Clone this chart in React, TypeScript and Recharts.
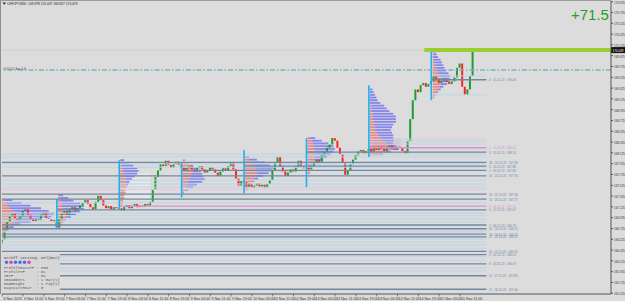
import React from 'react';
import { ComposedChart, XAxis, YAxis, Bar, ReferenceLine, ReferenceArea } from 'recharts';

// ---- candle closes, hourly (trading-hour index starts 6 Nov 03:00 = 3) ----
const firstHour = 3;
const firstOpen = 166.45;
const closes6Nov = [166.52,166.70,166.85,166.95,167.00,166.92,166.88,166.95,167.05,167.08,166.98,166.90,166.86,166.90,166.88,166.98,167.02,166.92,166.90,166.86,166.88];
const closes7Nov = [166.75,166.90,167.00,167.05,166.98,167.08,167.12,167.05,167.10,167.15,167.20,167.25,167.18,167.12,167.08,167.22,167.33,167.25,167.15,167.10,167.14,167.08,167.12,167.10];
const closes8Nov = [167.10,167.06,167.12,167.16,167.10,167.14,167.18,167.12,167.15,167.13,167.18,167.15,167.22,167.45,167.68,167.80,167.92,167.88,167.98,167.90,167.85,167.92,167.96,167.90];
const closes9Nov = [167.86,167.80,167.85,167.88,167.82,167.78,167.84,167.88,167.82,167.76,167.80,167.86,167.82,167.76,167.70,167.78,167.84,167.80,167.88,167.95,167.82,167.65,167.52,167.60];
const closes10Nov = [167.58,167.50,167.55,167.48,167.52,167.56,167.50,167.54,167.48,167.55,167.62,167.80,167.95,168.05,167.88,167.78,167.70,167.76,167.82,167.78,167.86,167.98,167.88,167.84];
const closes13Nov = [167.86,167.82,167.88,167.95,168.00,167.96,168.08,168.15,168.22,168.28,168.40,168.35,168.22,168.10,167.95,167.72,167.80,167.92,168.00,168.08,168.15,168.18,168.12,168.16];
const closes14Nov = [168.20,168.15,168.22,168.18,168.24,168.20,168.16,168.22,168.26,168.20,168.18,168.24,168.22,168.16,168.12,168.35,168.75,169.10,169.30,169.25,169.38,169.42,169.35,169.40];
const closes15Nov = [169.45,169.55,169.50,169.42,169.46,169.50,169.44,169.40,169.45,169.52,169.70,169.78,169.35,169.20,169.30,169.55,170.03];

const closes = [...closes6Nov, ...closes7Nov, ...closes8Nov, ...closes9Nov, ...closes10Nov, ...closes13Nov, ...closes14Nov, ...closes15Nov];

// ---- axes ----
const xTickHours = [3,11,19,27,35,43,51,59,67,75,83,91,99,107,115,123,131,139,147,155,163,171,179];
const xTickLabels = ['6 Nov 2023','6 Nov 11:00','6 Nov 19:00','7 Nov 03:00','7 Nov 11:00','7 Nov 19:00','8 Nov 03:00','8 Nov 11:00','8 Nov 19:00','9 Nov 03:00','9 Nov 11:00','9 Nov 19:00','10 Nov 03:00','10 Nov 11:00','10 Nov 19:00','13 Nov 03:00','13 Nov 11:00','13 Nov 19:00','14 Nov 03:00','14 Nov 11:00','14 Nov 19:00','15 Nov 03:00','15 Nov 11:00'];
const yTicks = [165.525,165.725,165.925,166.125,166.325,166.525,166.725,166.925,167.125,167.325,167.525,167.725,167.925,168.125,168.325,168.525,168.725,168.925,169.125,169.325,169.525,169.725,169.925,170.125,170.325,170.525,170.725,170.925];

const currentPrice = 170.029;
const targetLevel = 169.66;
const titleText = 'CHFJPY,M30  169.978 170.037 169.827 170.029';
const pipsText = '+71.5';
const targetText = '###### bu 1.0';
const panelTitle = 'On/Off Setting: Del(BUY)';
const panelRows = ['ProfileDataTF : M30','ProfileTF     : D1','IBTF          : H1','IBNumbers     : 1 Bar(s)','RowHeight     : 1 Pip(s)','DayStartHour  : 0'];
const panelDots = ['#4a6cf0', '#e83aa8', '#4a6cf0', '#4a6cf0', '#4a6cf0', '#e83aa8'];

// ---- day start hours (trading-hour index) ----
const dayStarts: Record<string, number> = {
  '06.11.23': 2.9, '07.11.23': 24, '08.11.23': 48, '09.11.23': 72,
  '10.11.23': 96, '13.11.23': 120, '14.11.23': 144, '15.11.23': 168,
};
const linesEnd = 189.2;

// ---- POC levels: id, date, value, pink ----
const levelIds = [0,1,2,18,3,4,16,15,14,5,6,7,20,19,17,10,9,8,11,12];
const levelDates = ['15.11.23','14.11.23','13.11.23','20.10.23','10.11.23','09.11.23','24.10.23','25.10.23','26.10.23','08.11.23','07.11.23','06.11.23','18.10.23','19.10.23','23.10.23','01.11.23','02.11.23','03.11.23','27.10.23','30.10.23'];
const levelValues = [169.48,168.22,168.14,167.95,167.88,167.80,167.70,167.36,167.27,167.14,167.07,166.79,166.72,166.62,166.57,166.30,166.24,166.07,165.85,165.60];
const levelPink = [false,true,false,false,false,false,false,false,false,true,false,false,false,false,false,false,false,false,false,false];

// ---- value-area lines ----
const vaBlueValues = [169.55,169.20,168.34,168.29,168.10,168.05,167.92,167.86,167.62,167.55,167.49,167.20,167.01,166.96,166.90,166.85,166.68,166.53,166.47,166.42,166.36,166.20,166.14,165.99,165.94,165.59];
const vaBlueStarts = [168,168,144,144,2.9,2.9,2.9,2.9,2.9,2.9,2.9,2.9,2.9,2.9,2.9,2.9,2.9,2.9,2.9,2.9,2.9,2.9,2.9,2.9,2.9,2.9];
const vaPinkValues = [168.38,167.45,166.66,166.00];
const vaPinkStarts = [144,2.9,2.9,2.9];

// ---- market profiles: [price, red TPOs, blue TPOs] ----
const profile6Nov = [[167.25,2,6],[167.20,3,12],[167.15,4,18],[167.10,6,24],[167.05,8,28],[167.00,10,30],[166.95,12,26],[166.90,12,18],[166.85,10,12],[166.80,8,6],[166.75,6,3],[166.70,4,1],[166.65,3,0],[166.60,2,0]];
const profile7Nov = [[167.34,1,3],[167.29,2,6],[167.24,2,10],[167.19,3,14],[167.14,3,17],[167.09,4,16],[167.04,5,12],[166.99,6,8],[166.94,6,4],[166.89,5,1],[166.84,4,0],[166.79,3,0],[166.74,2,0]];
const profile8Nov = [[167.99,0,3],[167.94,1,6],[167.89,1,9],[167.84,2,11],[167.79,2,12],[167.74,3,10],[167.69,3,8],[167.64,4,5],[167.59,4,3],[167.54,5,1],[167.49,5,0],[167.44,4,0],[167.39,4,0],[167.34,3,0],[167.29,3,0],[167.24,2,0],[167.19,2,0],[167.14,1,0]];
const profile9Nov = [[167.99,2,0],[167.94,4,0],[167.89,6,2],[167.84,8,4],[167.79,8,6],[167.74,7,8],[167.69,6,10],[167.64,5,12],[167.59,4,11],[167.54,3,8],[167.49,3,5],[167.44,2,2],[167.39,1,0]];
const profile10Nov = [[168.05,1,2],[168.00,3,6],[167.95,5,10],[167.90,7,12],[167.85,8,14],[167.80,9,12],[167.75,9,9],[167.70,8,6],[167.65,7,3],[167.60,6,1],[167.55,5,0],[167.50,4,0],[167.45,2,0]];
const profile13Nov = [[168.40,2,4],[168.35,3,8],[168.30,4,12],[168.25,5,15],[168.20,5,16],[168.15,6,14],[168.10,6,12],[168.05,6,9],[168.00,5,7],[167.95,5,4],[167.90,4,2],[167.85,3,0],[167.80,2,0],[167.75,2,0]];
const profile14Nov = [[169.30,0,2],[169.25,0,3],[169.20,0,4],[169.15,0,5],[169.10,0,6],[169.05,0,8],[169.00,1,10],[168.95,1,12],[168.90,1,14],[168.85,2,16],[168.80,2,18],[168.75,2,18],[168.70,3,17],[168.65,3,15],[168.60,4,13],[168.55,4,12],[168.50,5,12],[168.45,6,12],[168.40,8,10],[168.35,10,8],[168.30,12,6],[168.25,14,6],[168.20,16,6],[168.15,12,4],[168.10,8,2]];
const profile15Nov = [[170.00,0,2],[169.95,0,3],[169.90,0,4],[169.85,1,5],[169.80,1,6],[169.75,2,6],[169.70,2,7],[169.65,3,7],[169.60,4,8],[169.55,5,8],[169.50,6,7],[169.45,7,6],[169.40,6,5],[169.35,5,3],[169.30,4,2],[169.25,3,1],[169.20,2,0],[169.15,1,0]];
const profiles = [profile6Nov, profile7Nov, profile8Nov, profile9Nov, profile10Nov, profile13Nov, profile14Nov, profile15Nov];
const profileStarts = [2.9, 24.4, 48.4, 72.4, 96.4, 120.4, 144.4, 168.6];

// ---- day separators: [hour, top, bottom] ----
const separators = [[24,167.27,166.73],[48,167.99,167.07],[72,167.95,167.30],[96,168.18,167.38],[120,168.40,167.49],[144,169.38,168.05],[168,170.03,169.10]];

// ---- initial-balance boxes: [x1, x2, yTop, yBottom, color] ----
const ibBoxes: [number, number, number, number, string][] = [[49.6,60,167.75,167.25,'#e6e6e6'],[145.8,156.2,168.40,168.22,'#d8c6cc']];

const candles = closes.map((c, i) => {
  const o = i === 0 ? firstOpen : closes[i - 1];
  return { h: firstHour + i, o, c, body: [Math.min(o, c), Math.max(o, c)] };
});

const GREEN = '#1e9e32';
const RED = '#ff2222';
const STEEL = '#6e88a6';
const LIGHTBLUE = '#bad5e5';
const PINK = '#d78fd7';
const LIGHTPINK = '#e2c6e2';
const SANS = 'Liberation Sans, Arial, sans-serif';
const MONO = 'Liberation Mono, DejaVu Sans Mono, monospace';

// small text: drawn at 9px and scaled down (browsers clamp very small font sizes)
const Tiny = ({ x, y, sx, sy, fill, family, anchor, children }: any) => (
  <text transform={`translate(${x},${y}) scale(${sx},${sy})`} fontSize={9} fill={fill} fontFamily={family || SANS} textAnchor={anchor || 'start'} style={{ whiteSpace: 'pre' }}>{children}</text>
);

const CandleShape = (props: any) => {
  const { x, y, width, height, payload } = props;
  const up = payload.c >= payload.o;
  const h = Math.max(height, 0.8);
  return <rect x={x} y={y} width={width} height={h} fill={up ? GREEN : RED} />;
};

const XTick = (props: any) => {
  const { x, payload } = props;
  const i = xTickHours.indexOf(payload.value);
  return (
    <g>
      <line x1={x} x2={x} y1={294} y2={296.5} stroke="#444" strokeWidth={0.6} />
      <Tiny x={x + 1.2} y={299.6} sx={0.4} sy={0.48} fill="#333">{xTickLabels[i]}</Tiny>
    </g>
  );
};

const YTick = (props: any) => {
  const { x, y, payload } = props;
  return <Tiny x={x} y={y + 1.8} sx={0.34} sy={0.46} fill="#333">{Number(payload.value).toFixed(3)}</Tiny>;
};

const LevelLabel = (props: any) => {
  const vb = props.viewBox || {};
  const xr = (vb.x || 0) + (vb.width || 0) + 2.5;
  const yy = (vb.y || 0) + 1.6;
  return <Tiny x={xr} y={yy} sx={0.33} sy={0.45} fill={props.fill}>{props.text}</Tiny>;
};

const PriceBox = (props: any) => {
  const vb = props.viewBox || {};
  const xr = (vb.x || 0) + (vb.width || 0);
  const yy = vb.y || 0;
  return (
    <g>
      <rect x={xr} y={yy - 3} width={14} height={6} fill="#111" />
      <Tiny x={xr + 1.5} y={yy + 1.8} sx={0.34} sy={0.46} fill="#fff">{currentPrice.toFixed(3)}</Tiny>
    </g>
  );
};

export default function App() {
  const profileAreas: any[] = [];
  profiles.forEach((rows, pi) => {
    const s = profileStarts[pi];
    rows.forEach((row, ri) => {
      const [p, r, b] = row;
      if (r > 0) {
        profileAreas.push(
          <ReferenceArea key={`pr${pi}-${ri}`} x1={s} x2={s + r * 0.5} y1={p - 0.017} y2={p + 0.017} fill="#f26a6a" fillOpacity={0.75} stroke="none" ifOverflow="hidden" />
        );
      }
      if (b > 0) {
        profileAreas.push(
          <ReferenceArea key={`pb${pi}-${ri}`} x1={s + r * 0.5} x2={s + (r + b) * 0.5} y1={p - 0.017} y2={p + 0.017} fill="#6a6af2" fillOpacity={0.75} stroke="none" ifOverflow="hidden" />
        );
      }
    });
  });

  return (
    <div style={{ position: 'absolute', left: 0, top: 0, width: 625, height: 301, background: '#dcdcdc', overflow: 'hidden' }}>
      <ComposedChart width={625} height={301} data={candles} margin={{ top: 1, right: 0, bottom: 0, left: 2 }}>
        <XAxis dataKey="h" type="number" domain={[2.9, 237.12]} allowDataOverflow ticks={xTickHours} interval={0}
          height={7} tick={<XTick />} tickLine={false} axisLine={{ stroke: '#555' }} tickSize={0} tickMargin={0} />
        <YAxis orientation="right" type="number" domain={[165.512, 170.938]} allowDataOverflow ticks={yTicks} interval={0}
          width={14} tick={<YTick />} tickSize={2} tickMargin={1} tickLine={{ stroke: '#555' }} axisLine={{ stroke: '#555' }} />

        {ibBoxes.map((bx, i) => (
          <ReferenceArea key={`ib${i}`} x1={bx[0]} x2={bx[1]} y1={bx[3]} y2={bx[2]} fill={bx[4]} fillOpacity={1} stroke="none" ifOverflow="hidden" />
        ))}

        <ReferenceLine y={currentPrice} stroke="#cdcdcd" strokeWidth={1} ifOverflow="hidden" />

        {vaBlueValues.map((v, i) => (
          <ReferenceLine key={`vb${i}`} segment={[{ x: vaBlueStarts[i], y: v }, { x: linesEnd, y: v }]} stroke={LIGHTBLUE} strokeWidth={1} ifOverflow="hidden" />
        ))}
        {vaPinkValues.map((v, i) => (
          <ReferenceLine key={`vp${i}`} segment={[{ x: vaPinkStarts[i], y: v }, { x: linesEnd, y: v }]} stroke={LIGHTPINK} strokeWidth={1} ifOverflow="hidden" />
        ))}
        {levelValues.map((v, i) => {
          const start = dayStarts[levelDates[i]] ?? 2.9;
          const col = levelPink[i] ? PINK : STEEL;
          return (
            <ReferenceLine key={`lv${i}`} segment={[{ x: start, y: v }, { x: linesEnd, y: v }]} stroke={col} strokeWidth={1.3} ifOverflow="hidden"
              label={<LevelLabel fill={col} text={`${levelIds[i]} : ${levelDates[i]} : ${v.toFixed(2)}`} />} />
          );
        })}

        {profileAreas}

        {separators.map((s, i) => (
          <ReferenceLine key={`sep${i}`} segment={[{ x: s[0], y: s[1] }, { x: s[0], y: s[2] }]} stroke="#1cb2ee" strokeWidth={1.6} ifOverflow="hidden" />
        ))}

        <ReferenceLine y={targetLevel} stroke="#78b4bc" strokeWidth={1.5} strokeDasharray="5 2 1.5 2" ifOverflow="hidden" />

        <Bar dataKey="body" barSize={2} isAnimationActive={false} shape={<CandleShape />} />

        <ReferenceLine segment={[{ x: 165.3, y: currentPrice }, { x: 237.12, y: currentPrice }]} stroke="#9acd32" strokeWidth={4} ifOverflow="hidden" />
        <ReferenceLine y={currentPrice} stroke="none" ifOverflow="hidden" label={<PriceBox />} />
      </ComposedChart>

      <svg width={625} height={301} style={{ position: 'absolute', left: 0, top: 0, pointerEvents: 'none' }}>
        <rect x={0} y={0} width={1} height={294} fill="#8e8e8e" />
        <rect x={0} y={0} width={611} height={1} fill="#9a9a9a" />
        <path d="M2.5 2.6 L6 2.6 L4.25 4.8 Z" fill="#222" />
        <Tiny x={7} y={5} sx={0.36} sy={0.46} fill="#222">{titleText}</Tiny>
        <Tiny x={3} y={69.5} sx={0.4} sy={0.46} fill="#333">{targetText}</Tiny>
        <text x={571} y={20} fontSize={15} fill="#22a022" fontFamily={SANS}>{pipsText}</text>

        <rect x={2} y={254} width={58} height={38} fill="#d7d7d7" />
        <Tiny x={4} y={258.5} sx={0.43} sy={0.45} fill="#444" family={MONO}>{panelTitle}</Tiny>
        {panelDots.map((c, i) => (
          <circle key={i} cx={6.5 + i * 4.5} cy={262.3} r={1.7} fill={c} />
        ))}
        {panelRows.map((t, i) => (
          <Tiny key={i} x={4} y={268.6 + i * 4} sx={0.43} sy={0.42} fill="#555" family={MONO}>{t}</Tiny>
        ))}
      </svg>
    </div>
  );
}
